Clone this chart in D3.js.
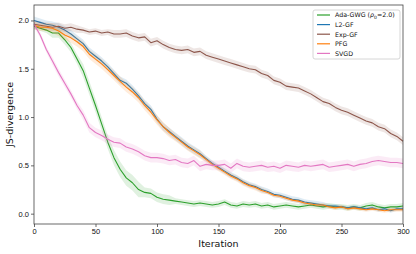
<!DOCTYPE html>
<html>
<head>
<meta charset="utf-8">
<script src="https://cdn.jsdelivr.net/npm/d3@7"></script>
<style>
  body { margin: 0; background: #fff; }
  svg { display: block; font-family: "DejaVu Sans", sans-serif; }
</style>
</head>
<body>
<div id="container"></div>
<script>
// iterations, every 5 steps
const iterations = d3.range(0, 301, 5);

const adaGwg = [1.94,1.92,1.90,1.87,1.87,1.80,1.72,1.60,1.48,1.30,1.12,0.93,0.74,0.58,0.46,0.37,0.32,0.25,0.22,0.21,
  0.17,0.15,0.14,0.13,0.12,0.11,0.10,0.11,0.10,0.09,0.10,0.12,0.09,0.08,0.10,0.09,0.10,0.08,0.09,0.07,
  0.08,0.09,0.08,0.07,0.08,0.09,0.08,0.07,0.08,0.07,0.07,0.06,0.07,0.06,0.08,0.09,0.07,0.06,0.07,0.07,0.08];
const l2Gf = [2.00,1.98,1.96,1.95,1.93,1.90,1.86,1.81,1.76,1.68,1.63,1.58,1.52,1.45,1.38,1.35,1.29,1.22,1.14,1.08,
  0.98,0.90,0.85,0.80,0.75,0.70,0.66,0.62,0.57,0.52,0.48,0.44,0.40,0.37,0.33,0.30,0.28,0.25,0.23,0.20,
  0.19,0.17,0.15,0.14,0.12,0.11,0.10,0.09,0.08,0.08,0.07,0.06,0.07,0.06,0.05,0.06,0.04,0.05,0.03,0.05,0.05];
const expGf = [1.96,1.95,1.94,1.93,1.94,1.92,1.93,1.91,1.90,1.88,1.89,1.87,1.88,1.86,1.86,1.87,1.84,1.82,1.83,1.77,
  1.79,1.75,1.72,1.70,1.69,1.70,1.67,1.68,1.64,1.62,1.60,1.58,1.56,1.54,1.52,1.50,1.49,1.45,1.43,1.38,
  1.36,1.32,1.31,1.30,1.27,1.24,1.20,1.16,1.14,1.10,1.07,1.05,1.02,0.99,0.96,0.94,0.90,0.88,0.83,0.80,0.75];
const pfg = [1.95,1.93,1.93,1.92,1.89,1.85,1.82,1.78,1.73,1.65,1.60,1.55,1.49,1.43,1.37,1.31,1.26,1.20,1.12,1.05,
  0.97,0.90,0.84,0.79,0.74,0.69,0.65,0.61,0.56,0.51,0.47,0.43,0.39,0.36,0.32,0.29,0.27,0.24,0.22,0.19,
  0.18,0.16,0.14,0.13,0.11,0.10,0.09,0.09,0.07,0.06,0.07,0.05,0.06,0.05,0.04,0.05,0.04,0.03,0.04,0.04,0.04];
const svgd = [1.96,1.85,1.70,1.58,1.46,1.35,1.24,1.12,1.02,0.89,0.84,0.81,0.77,0.74,0.73,0.69,0.67,0.64,0.60,0.58,
  0.58,0.57,0.55,0.56,0.53,0.52,0.55,0.49,0.51,0.50,0.50,0.51,0.47,0.52,0.49,0.48,0.49,0.50,0.48,0.49,
  0.47,0.50,0.49,0.48,0.50,0.49,0.50,0.51,0.48,0.49,0.50,0.51,0.49,0.51,0.52,0.54,0.55,0.54,0.53,0.53,0.52];

// band half-width, one value per 25 iterations
const adaSpread = [0.03,0.05,0.07,0.08,0.05,0.03,0.03,0.03,0.03,0.03,0.03,0.03,0.03];
const l2Spread  = [0.04,0.04,0.04,0.04,0.04,0.04,0.03,0.03,0.03,0.03,0.02,0.02,0.02];
const expSpread = [0.04,0.04,0.03,0.04,0.04,0.04,0.04,0.04,0.04,0.04,0.04,0.04,0.04];
const pfgSpread = [0.04,0.05,0.05,0.05,0.05,0.04,0.03,0.03,0.02,0.02,0.02,0.02,0.02];
const svgdSpread= [0.03,0.04,0.05,0.05,0.05,0.05,0.05,0.05,0.05,0.05,0.05,0.05,0.05];

const xTicks = [0, 50, 100, 150, 200, 250, 300];
const yTicks = [0, 0.5, 1.0, 1.5, 2.0];

const series = [
  {name: "Ada-GWG", values: adaGwg, spread: adaSpread, color: "#2ca02c"},
  {name: "L2-GF", values: l2Gf, spread: l2Spread, color: "#1f77b4"},
  {name: "Exp-GF", values: expGf, spread: expSpread, color: "#8c564b"},
  {name: "PFG", values: pfg, spread: pfgSpread, color: "#ff7f0e"},
  {name: "SVGD", values: svgd, spread: svgdSpread, color: "#e377c2"}
];

const width = 416, height = 254;
const margin = {top: 5, right: 13, bottom: 30, left: 34};

const svg = d3.select("#container").append("svg")
  .attr("width", width)
  .attr("height", height);

const x = d3.scaleLinear().domain([0, 300]).range([margin.left, width - margin.right]);
const y = d3.scaleLinear().domain([-0.107, 2.16]).range([height - margin.bottom, margin.top]);

const plot = svg.append("g");

// bands first, then lines (matplotlib draws fill and line per series)
series.forEach(s => {
  const pts = iterations.map((it, i) => ({it, v: s.values[i], sd: s.spread[Math.floor((it + 12) / 25)]}));
  plot.append("path")
    .datum(pts)
    .attr("fill", s.color)
    .attr("fill-opacity", 0.15)
    .attr("d", d3.area().x(d => x(d.it)).y0(d => y(d.v - d.sd)).y1(d => y(d.v + d.sd)));
  plot.append("path")
    .datum(pts)
    .attr("fill", "none")
    .attr("stroke", s.color)
    .attr("stroke-width", 1.1)
    .attr("stroke-linejoin", "round")
    .attr("d", d3.line().x(d => x(d.it)).y(d => y(d.v)));
});

// axes
const xAxis = svg.append("g")
  .attr("transform", `translate(0,${height - margin.bottom})`)
  .call(d3.axisBottom(x).tickValues(xTicks).tickSize(3).tickPadding(2));
const yAxis = svg.append("g")
  .attr("transform", `translate(${margin.left},0)`)
  .call(d3.axisLeft(y).tickValues(yTicks).tickFormat(d3.format(".1f")).tickSize(3).tickPadding(2));

[xAxis, yAxis].forEach(a => {
  a.select(".domain").remove();
  a.selectAll("line").attr("stroke", "#444").attr("stroke-width", 0.8);
  a.selectAll("text").attr("fill", "#111").style("font-size", "7.5px");
});

// frame
svg.append("rect")
  .attr("x", margin.left)
  .attr("y", margin.top)
  .attr("width", width - margin.left - margin.right)
  .attr("height", height - margin.top - margin.bottom)
  .attr("fill", "none")
  .attr("stroke", "#444")
  .attr("stroke-width", 0.8);

svg.append("text")
  .attr("x", (margin.left + width - margin.right) / 2)
  .attr("y", 247)
  .attr("text-anchor", "middle")
  .style("font-size", "9.5px")
  .attr("fill", "#111")
  .text("Iteration");

svg.append("text")
  .attr("transform", `translate(13,${(margin.top + height - margin.bottom) / 2}) rotate(-90)`)
  .attr("text-anchor", "middle")
  .style("font-size", "9.5px")
  .attr("fill", "#111")
  .text("JS-divergence");

// legend
const legend = svg.append("g").attr("transform", "translate(313,10)");
legend.append("rect")
  .attr("width", 87).attr("height", 49)
  .attr("rx", 2)
  .attr("fill", "#fff")
  .attr("fill-opacity", 0.8)
  .attr("stroke", "#ccc")
  .attr("stroke-width", 0.8);

series.forEach((s, i) => {
  const row = legend.append("g").attr("transform", `translate(0,${5 + i * 9.6})`);
  row.append("line")
    .attr("x1", 4).attr("x2", 17)
    .attr("stroke", s.color).attr("stroke-width", 1.2);
  const t = row.append("text")
    .attr("x", 22).attr("y", 2.3)
    .style("font-size", "6.3px")
    .attr("fill", "#111");
  if (i === 0) {
    t.append("tspan").text("Ada-GWG (");
    t.append("tspan").style("font-style", "italic").text("ρ");
    t.append("tspan").attr("dy", 1.3).style("font-size", "4.5px").text("0");
    t.append("tspan").attr("dy", -1.3).text("=2.0)");
  } else {
    t.text(s.name);
  }
});
</script>
</body>
</html>
